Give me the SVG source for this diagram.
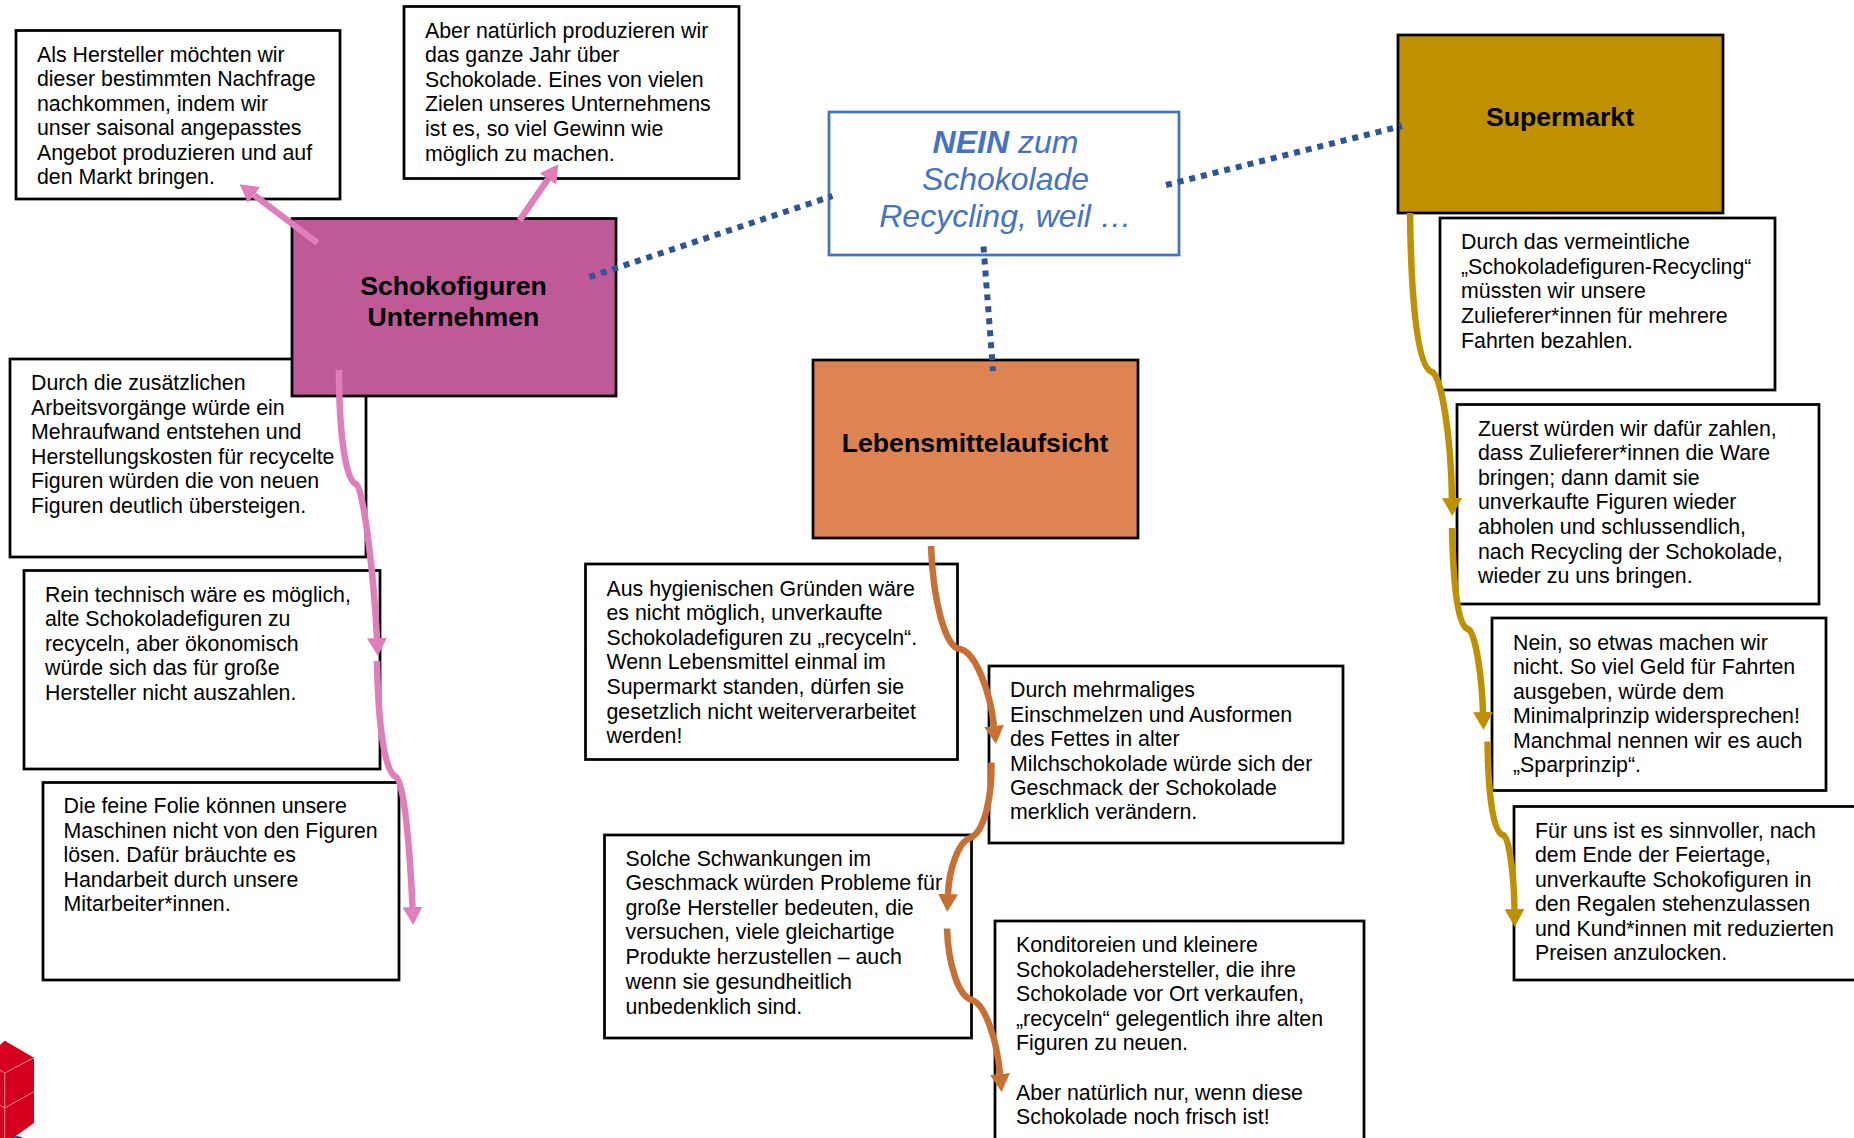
<svg xmlns="http://www.w3.org/2000/svg" width="1854" height="1138" viewBox="0 0 1854 1138">
<style>
text{font-family:"Liberation Sans",Arial,sans-serif;fill:#000}
.t{font-size:21.33px}
.h{font-size:26.67px;font-weight:700;text-anchor:middle}
.b{fill:#fff;stroke:#000;stroke-width:2.75}
.n{font-size:32px;font-style:italic;fill:#4472c4;text-anchor:middle}
.p{fill:none;stroke:#e07dbb;stroke-width:6.5}
.o{fill:none;stroke:#c87033;stroke-width:6.5}
.g{fill:none;stroke:#bf9000;stroke-width:6.5}
.d{fill:none;stroke:#2f5597;stroke-width:6;stroke-dasharray:6 6}
</style>
<defs>
<marker id="ap" markerUnits="userSpaceOnUse" markerWidth="18" markerHeight="20" refX="0" refY="10" orient="auto" viewBox="0 0 18 20"><path d="M0 0L18 10L0 20Z" fill="#e07dbb"/></marker>
<marker id="ao" markerUnits="userSpaceOnUse" markerWidth="18" markerHeight="20" refX="0" refY="10" orient="auto" viewBox="0 0 18 20"><path d="M0 0L18 10L0 20Z" fill="#c87033"/></marker>
<marker id="ag" markerUnits="userSpaceOnUse" markerWidth="18" markerHeight="20" refX="0" refY="10" orient="auto" viewBox="0 0 18 20"><path d="M0 0L18 10L0 20Z" fill="#bf9000"/></marker>
</defs>
<rect width="1854" height="1138" fill="#fff"/>
<g id="logo">
<path d="M0 1045L4.7 1040.7L34 1057.7V1123L13 1138H0Z" fill="#d6001c"/>
<path d="M0 1070L4.7 1073L34 1057.7M4.7 1073V1138M0 1105L4.7 1108L34 1091.7" fill="none" stroke="#f08a96" stroke-width="1"/>
<path d="M11 1138Q17 1134 23 1138Z" fill="#0a5a96"/>
</g>
<g id="box-als-hersteller"><rect class="b" x="16" y="30.5" width="324" height="168.5"/>
<text class="t"><tspan x="37" y="61.5">Als Hersteller möchten wir</tspan><tspan x="37" y="86">dieser bestimmten Nachfrage</tspan><tspan x="37" y="110.5">nachkommen, indem wir</tspan><tspan x="37" y="135">unser saisonal angepasstes</tspan><tspan x="37" y="159.5">Angebot produzieren und auf</tspan><tspan x="37" y="184">den Markt bringen.</tspan></text></g>
<g id="box-aber"><rect class="b" x="404" y="6.5" width="335" height="172"/>
<text class="t"><tspan x="425" y="38">Aber natürlich produzieren wir</tspan><tspan x="425" y="62">das ganze Jahr über</tspan><tspan x="425" y="87">Schokolade. Eines von vielen</tspan><tspan x="425" y="111">Zielen unseres Unternehmens</tspan><tspan x="425" y="136">ist es, so viel Gewinn wie</tspan><tspan x="425" y="160.5">möglich zu machen.</tspan></text></g>
<g id="box-zusaetzlich"><rect class="b" x="10" y="359" width="356" height="198"/>
<text class="t"><tspan x="31" y="390">Durch die zusätzlichen</tspan><tspan x="31" y="414.5">Arbeitsvorgänge würde ein</tspan><tspan x="31" y="439">Mehraufwand entstehen und</tspan><tspan x="31" y="463.5">Herstellungskosten für recycelte</tspan><tspan x="31" y="488">Figuren würden die von neuen</tspan><tspan x="31" y="512.5">Figuren deutlich übersteigen.</tspan></text></g>
<g id="node-schokofiguren"><rect x="292" y="218.5" width="324" height="177.5" fill="#bf5a97" stroke="#000" stroke-width="2.75"/>
<text class="h"><tspan x="453.5" y="295">Schokofiguren</tspan><tspan x="453.5" y="325.5">Unternehmen</tspan></text></g>
<g id="box-technisch"><rect class="b" x="24" y="570.5" width="356" height="198.5"/>
<text class="t"><tspan x="45" y="601.5">Rein technisch wäre es möglich,</tspan><tspan x="45" y="626">alte Schokoladefiguren zu</tspan><tspan x="45" y="651">recyceln, aber ökonomisch</tspan><tspan x="45" y="675">würde sich das für große</tspan><tspan x="45" y="700">Hersteller nicht auszahlen.</tspan></text></g>
<g id="box-folie"><rect class="b" x="43" y="782.5" width="356" height="197.5"/>
<text class="t"><tspan x="63.5" y="812.5">Die feine Folie können unsere</tspan><tspan x="63.5" y="838">Maschinen nicht von den Figuren</tspan><tspan x="63.5" y="862">lösen. Dafür bräuchte es</tspan><tspan x="63.5" y="887">Handarbeit durch unsere</tspan><tspan x="63.5" y="911">Mitarbeiter*innen.</tspan></text></g>
<g id="node-nein"><rect x="829" y="112" width="350" height="143" fill="#fff" stroke="#4472c4" stroke-width="2.75"/>
<text class="n"><tspan x="1005.5" y="153"><tspan font-weight="700">NEIN</tspan> zum</tspan><tspan x="1005.5" y="190">Schokolade</tspan><tspan x="1005.5" y="227">Recycling, weil …</tspan></text></g>
<g id="node-lebensmittelaufsicht"><rect x="813" y="360" width="325" height="178" fill="#dd8452" stroke="#000" stroke-width="2.75"/>
<text class="h" x="975" y="452">Lebensmittelaufsicht</text></g>
<g id="box-hygiene"><rect class="b" x="585.5" y="564" width="372" height="195.5"/>
<text class="t"><tspan x="606.5" y="596">Aus hygienischen Gründen wäre</tspan><tspan x="606.5" y="620">es nicht möglich, unverkaufte</tspan><tspan x="606.5" y="645">Schokoladefiguren zu „recyceln“.</tspan><tspan x="606.5" y="669">Wenn Lebensmittel einmal im</tspan><tspan x="606.5" y="694">Supermarkt standen, dürfen sie</tspan><tspan x="606.5" y="718.5">gesetzlich nicht weiterverarbeitet</tspan><tspan x="606.5" y="743">werden!</tspan></text></g>
<g id="box-einschmelzen"><rect class="b" x="989" y="666" width="354" height="177"/>
<text class="t"><tspan x="1010" y="697">Durch mehrmaliges</tspan><tspan x="1010" y="721.5">Einschmelzen und Ausformen</tspan><tspan x="1010" y="746">des Fettes in alter</tspan><tspan x="1010" y="770.5">Milchschokolade würde sich der</tspan><tspan x="1010" y="795">Geschmack der Schokolade</tspan><tspan x="1010" y="819">merklich verändern.</tspan></text></g>
<g id="box-schwankungen"><rect class="b" x="604.5" y="835" width="367" height="203"/>
<text class="t"><tspan x="625.5" y="865.5">Solche Schwankungen im</tspan><tspan x="625.5" y="890">Geschmack würden Probleme für</tspan><tspan x="625.5" y="915">große Hersteller bedeuten, die</tspan><tspan x="625.5" y="939">versuchen, viele gleichartige</tspan><tspan x="625.5" y="964">Produkte herzustellen – auch</tspan><tspan x="625.5" y="988.5">wenn sie gesundheitlich</tspan><tspan x="625.5" y="1013.5">unbedenklich sind.</tspan></text></g>
<g id="box-konditoreien"><rect class="b" x="995" y="921" width="369" height="240"/>
<text class="t"><tspan x="1016" y="952">Konditoreien und kleinere</tspan><tspan x="1016" y="976.5">Schokoladehersteller, die ihre</tspan><tspan x="1016" y="1001">Schokolade vor Ort verkaufen,</tspan><tspan x="1016" y="1025.5">„recyceln“ gelegentlich ihre alten</tspan><tspan x="1016" y="1050">Figuren zu neuen.</tspan><tspan x="1016" y="1099.5">Aber natürlich nur, wenn diese</tspan><tspan x="1016" y="1124">Schokolade noch frisch ist!</tspan></text></g>
<g id="node-supermarkt"><rect x="1398" y="35" width="325" height="178" fill="#bf9000" stroke="#000" stroke-width="2.75"/>
<text class="h" x="1560" y="126">Supermarkt</text></g>
<g id="box-fahrten"><rect class="b" x="1440" y="218" width="335" height="172"/>
<text class="t"><tspan x="1461" y="248.5">Durch das vermeintliche</tspan><tspan x="1461" y="274">„Schokoladefiguren-Recycling“</tspan><tspan x="1461" y="298">müssten wir unsere</tspan><tspan x="1461" y="323">Zulieferer*innen für mehrere</tspan><tspan x="1461" y="347.5">Fahrten bezahlen.</tspan></text></g>
<g id="box-zuerst"><rect class="b" x="1457" y="404.5" width="362" height="199.5"/>
<text class="t"><tspan x="1478" y="436">Zuerst würden wir dafür zahlen,</tspan><tspan x="1478" y="460">dass Zulieferer*innen die Ware</tspan><tspan x="1478" y="485">bringen; dann damit sie</tspan><tspan x="1478" y="509">unverkaufte Figuren wieder</tspan><tspan x="1478" y="534">abholen und schlussendlich,</tspan><tspan x="1478" y="558.5">nach Recycling der Schokolade,</tspan><tspan x="1478" y="583">wieder zu uns bringen.</tspan></text></g>
<g id="box-sparprinzip"><rect class="b" x="1492" y="618" width="334" height="172.5"/>
<text class="t"><tspan x="1513" y="650">Nein, so etwas machen wir</tspan><tspan x="1513" y="674">nicht. So viel Geld für Fahrten</tspan><tspan x="1513" y="699">ausgeben, würde dem</tspan><tspan x="1513" y="723">Minimalprinzip widersprechen!</tspan><tspan x="1513" y="748">Manchmal nennen wir es auch</tspan><tspan x="1513" y="772">„Sparprinzip“.</tspan></text></g>
<g id="box-feiertage"><rect class="b" x="1514" y="806.5" width="360" height="173.5"/>
<text class="t"><tspan x="1535" y="838">Für uns ist es sinnvoller, nach</tspan><tspan x="1535" y="862">dem Ende der Feiertage,</tspan><tspan x="1535" y="887">unverkaufte Schokofiguren in</tspan><tspan x="1535" y="911">den Regalen stehenzulassen</tspan><tspan x="1535" y="936">und Kund*innen mit reduzierten</tspan><tspan x="1535" y="960">Preisen anzulocken.</tspan></text></g>
<g id="connectors">
<path class="d" d="M589.5 277L832.5 196"/>
<path class="d" d="M1166 185L1402 126"/>
<path class="d" d="M983.5 246.5L993 371"/>
<path class="p" marker-end="url(#ap)" d="M317.5 243L254 195"/>
<path class="p" marker-end="url(#ap)" d="M519.5 220.5L548 179"/>
<path class="p" marker-end="url(#ap)" d="M339 370C339 430 345 480 356 484C364 488 374 580 377 638"/>
<path class="p" marker-end="url(#ap)" d="M377 661C378 720 384 772 396 777C404 780 410 850 412.5 907"/>
<path class="o" marker-end="url(#ao)" d="M931 546C933 600 945 648 960 649C975 652 990 690 994 726"/>
<path class="o" marker-end="url(#ao)" d="M991.5 762.5C992 795 985 832 970 838C958 842 949 870 948 894"/>
<path class="o" marker-end="url(#ao)" d="M947 928.5C948 960 957 996 972 1000C985 1004 997 1040 1000 1074"/>
<path class="g" marker-end="url(#ag)" d="M1410 213C1411 290 1416 368 1432 372C1442 376 1451 440 1452 498"/>
<path class="g" marker-end="url(#ag)" d="M1452 528C1453 570 1456 626 1468 629C1476 632 1482 680 1483 712"/>
<path class="g" marker-end="url(#ag)" d="M1487.5 741.5C1488 780 1491 832 1503 835C1510 838 1514 880 1514.5 909"/>
</g>
</svg>
